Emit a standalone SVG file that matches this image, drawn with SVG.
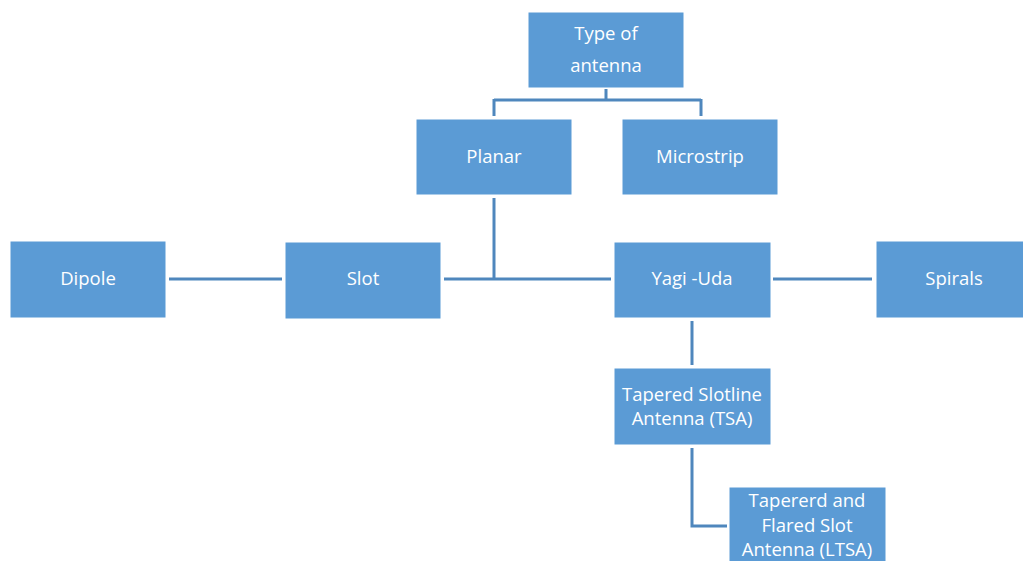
<svg xmlns="http://www.w3.org/2000/svg" width="1023" height="561" viewBox="0 0 1023 561">
<style>
.box{fill:#5B9BD5;stroke:#ffffff;stroke-width:1}
.t{font-family:"Open Sans","Liberation Sans",sans-serif;font-size:18.5px;fill:#ffffff;text-anchor:middle}
.c{fill:none;stroke:#4F87BD;stroke-width:3}
</style>
<rect width="1023" height="561" fill="#ffffff"/>
<g id="connectors">
<path class="c" d="M606 89V100M494 100H701M494 99V116M701 99V116"/>
<path class="c" d="M494 198V279"/>
<path class="c" d="M169 279H282"/>
<path class="c" d="M444 279H611"/>
<path class="c" d="M773 279H872"/>
<path class="c" d="M692 321V365"/>
<path class="c" d="M692 448V526H727"/>
</g>
<g id="n-type"><rect class="box" x="528" y="12" width="156" height="76"/><text class="t" x="606" y="40">Type of</text><text class="t" x="606" y="72">antenna</text></g>
<g id="n-planar"><rect class="box" x="416" y="119" width="156" height="76"/><text class="t" x="494" y="163">Planar</text></g>
<g id="n-microstrip"><rect class="box" x="622" y="119" width="156" height="76"/><text class="t" x="700" y="163">Microstrip</text></g>
<g id="n-dipole"><rect class="box" x="10" y="241" width="156" height="77"/><text class="t" x="88" y="285">Dipole</text></g>
<g id="n-slot"><rect class="box" x="285" y="242" width="156" height="77"/><text class="t" x="363" y="285">Slot</text></g>
<g id="n-yagi"><rect class="box" x="614" y="242" width="157" height="76"/><text class="t" x="692" y="285">Yagi -Uda</text></g>
<g id="n-spirals"><rect class="box" x="876" y="241" width="156" height="77"/><text class="t" x="954" y="285">Spirals</text></g>
<g id="n-tsa"><rect class="box" x="614" y="368" width="157" height="77"/><text class="t" x="692" y="401">Tapered Slotline</text><text class="t" x="692" y="425">Antenna (TSA)</text></g>
<g id="n-ltsa"><rect class="box" x="729" y="487" width="157" height="80"/><text class="t" x="807" y="507">Tapererd and</text><text class="t" x="807" y="532">Flared Slot</text><text class="t" x="807" y="556">Antenna (LTSA)</text></g>
</svg>
